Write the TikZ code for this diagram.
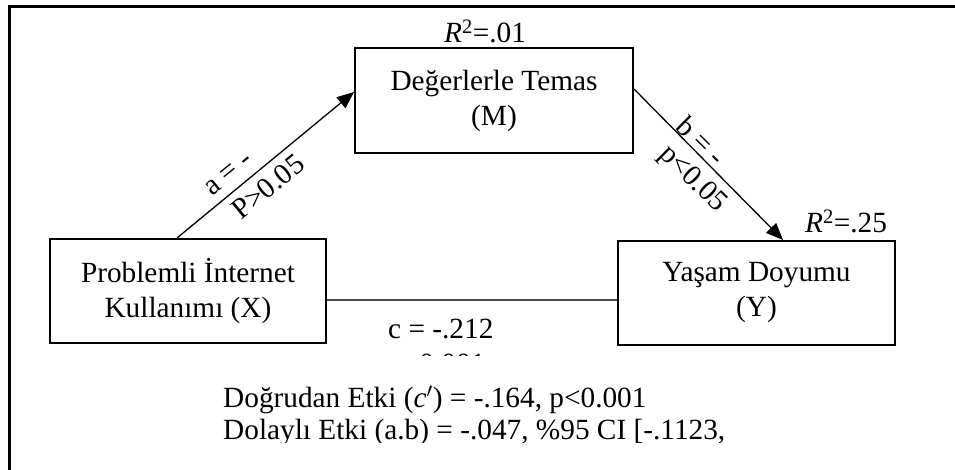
\documentclass[tikz,border=0pt]{standalone}
\usepackage{fontspec}
\setmainfont{Liberation Serif}
\usetikzlibrary{arrows.meta}
\newcommand\diagfont{\fontsize{29.3}{35}\selectfont}
\begin{document}
\begin{tikzpicture}[x=1pt,y=-1pt,
  box/.style={draw,line width=2pt,rectangle,inner sep=0pt,align=center,font=\diagfont},
  lbl/.style={inner sep=0pt,font=\diagfont},
  arr/.style={line width=1.3pt,-{Triangle[length=17pt,width=14pt]}},
  frame/.style={line width=2.6pt}]
\useasboundingbox (0,0) rectangle (955,470);
% outer frame (top and left edges visible)
\draw[frame] (9.7,470) -- (9.7,6.8) -- (955,6.8);
% boxes
\node[box,minimum width=278pt,minimum height=105pt] (M) at (494,100.5) {Değerlerle Temas\\(M)};
\node[box,minimum width=276pt,minimum height=104pt] (X) at (188,291) {\raisebox{-4pt}{\parbox{270pt}{\centering Problemli İnternet\\Kullanımı (X)}}};
\node[box,minimum width=277pt,minimum height=104pt] (Y) at (756.5,293) {\raisebox{-4pt}{\parbox{270pt}{\centering Yaşam Doyumu\\(Y)}}};
% R^2 labels
\node[lbl,anchor=base] (rm) at (485,43) {\textit{R}\textsuperscript{2}=.01};
\node[lbl,anchor=base] (ry) at (846,233) {\textit{R}\textsuperscript{2}=.25};
% connectors
\draw[arr] ([xshift=-11pt]X.north) -- ([yshift=8.5pt]M.west);
\draw[arr] ([yshift=11.5pt]M.east) -- ([xshift=26.5pt]Y.north);
\draw[line width=1.3pt,draw=black!70] ([yshift=-9pt]X.east) -- ([yshift=-7pt]Y.west);
% path labels
\node[lbl,rotate=39.3,anchor=base west] (a1) at (211.9,196.8) {a = -};
\node[lbl,rotate=39.3,anchor=base west] (a2) at (241.3,221.1) {P>0.05};
\node[lbl,rotate=-44.6,anchor=base west] (b1) at (674.7,128.3) {b = -};
\node[lbl,rotate=-44.6,anchor=base west] (b2) at (658.2,155) {p<0.05};
\begin{scope}
\clip (330,305) rectangle (615,355.5);
\node[lbl,anchor=base west] (c1) at (388,338) {c = -.212};
\node[lbl,anchor=base west] (c2) at (388,373) {p<0.001};
\end{scope}
\begin{scope}
\clip (200,370) rectangle (900,442);
\node[lbl,anchor=base west] (e1) at (223,407) {Doğrudan Etki (\textit{c}$'$) = -.164, p<0.001};
\node[lbl,anchor=base west] (e2) at (223,439) {Dolaylı Etki (a.b) = -.047, \%95 CI [-.1123,};
\end{scope}
\end{tikzpicture}
\end{document}
